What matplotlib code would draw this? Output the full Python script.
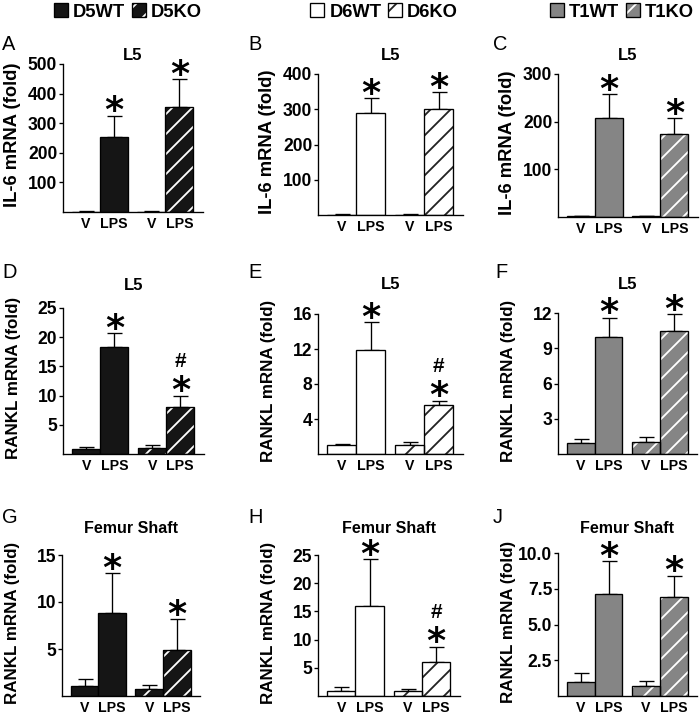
import numpy as np
import matplotlib
matplotlib.use("Agg")
import matplotlib.pyplot as plt
from matplotlib.patches import Patch
from matplotlib.legend_handler import HandlerTuple

plt.rcParams['font.family'] = ['Liberation Sans', 'DejaVu Sans']
plt.rcParams['hatch.linewidth'] = 1.1

###################################################
# Data (fold change, mean and SEM)
###################################################
groups = ["V", "LPS", "V", "LPS"]

# IL-6 mRNA, L5
a_mean = [1, 252, 1, 355]
a_sem = [1, 73, 1, 94]
b_mean = [1, 290, 1, 301]
b_sem = [1, 42, 1, 48]
c_mean = [1.5, 208, 1.5, 174]
c_sem = [0.5, 50, 0.5, 34]

# RANKL mRNA, L5
d_mean = [0.9, 18.4, 1.1, 8.1]
d_sem = [0.35, 2.3, 0.4, 1.9]
e_mean = [1.03, 11.9, 1.0, 5.6]
e_sem = [0.11, 3.2, 0.4, 0.5]
f_mean = [0.97, 10.0, 1.06, 10.46]
f_sem = [0.29, 1.6, 0.37, 1.44]

# RANKL mRNA, femur shaft
g_mean = [1.06, 8.8, 0.78, 4.9]
g_sem = [0.74, 4.3, 0.42, 3.3]
h_mean = [0.95, 16.0, 0.83, 6.1]
h_sem = [0.7, 8.3, 0.41, 2.65]
j_mean = [1.0, 7.13, 0.7, 6.9]
j_sem = [0.59, 2.29, 0.35, 1.51]

# significance marks per bar
star = [False, True, False, True]
hash_d = [False, False, False, True]
hash_none = [False, False, False, False]

a_ticks = [100, 200, 300, 400, 500]
b_ticks = [100, 200, 300, 400]
c_ticks = [100, 200, 300]
d_ticks = [5, 10, 15, 20, 25]
e_ticks = [4, 8, 12, 16]
f_ticks = [3, 6, 9, 12]
g_ticks = [5, 10, 15]
h_ticks = [5, 10, 15, 20, 25]
j_ticks = [2.5, 5.0, 7.5, 10.0]

strains = [("D5WT", "D5KO"), ("D6WT", "D6KO"), ("T1WT", "T1KO")]
face = ["#151515", "white", "#858585"]
hatchcol = ["white", "#222222", "white"]

W, H = 700, 716
DPI = 120
fig = plt.figure(figsize=(W / DPI, H / DPI), dpi=DPI)

xpos = [0.82, 1.82, 3.16, 4.16]


def px_axes(l, r, t, b):
    return fig.add_axes([l / W, 1 - b / H, (r - l) / W, (b - t) / H])


def panel(box, mean, sem, ticks, ymax, col, ylabel, lab_size, title, title_px,
          title_size, letter, letter_px, hashes, fmt="%d"):
    l, r, t, b = box
    ax = px_axes(l, r, t, b)
    # WT bars
    ax.bar(xpos[:2], mean[:2], width=1.0, color=face[col], edgecolor="black",
           linewidth=0.8, zorder=2)
    # KO bars, hatch first then outline
    ax.bar(xpos[2:], mean[2:], width=1.0, color=face[col], edgecolor=hatchcol[col],
           hatch="//", linewidth=0, zorder=2)
    ax.bar(xpos[2:], mean[2:], width=1.0, fill=False, edgecolor="black",
           linewidth=0.8, zorder=3)
    ax.errorbar(xpos, mean, yerr=[np.zeros(4), sem], fmt="none", ecolor="black",
                elinewidth=0.8, capsize=4.5, capthick=0.8, zorder=1)

    for i in range(4):
        top = mean[i] + sem[i]
        if star[i]:
            ax.annotate("*", xy=(xpos[i], top), xytext=(0, -4),
                        textcoords="offset points", ha="center", va="baseline",
                        fontsize=22, family="DejaVu Sans", fontweight="bold",
                        annotation_clip=False)
        if hashes[i]:
            ax.annotate("#", xy=(xpos[i], top), xytext=(0, 17),
                        textcoords="offset points", ha="center", va="baseline",
                        fontsize=12.5, fontweight="bold", annotation_clip=False)

    ax.set_xlim(0, 5.0)
    ax.set_ylim(0, ymax)
    ax.set_yticks(ticks)
    ax.set_yticklabels([fmt % v for v in ticks], fontsize=10.5, fontweight="bold")
    ax.set_xticks(xpos)
    ax.set_xticklabels(groups, fontsize=8.5, fontweight="bold")
    ax.tick_params(axis="x", length=0, pad=3)
    ax.tick_params(axis="y", direction="out", length=2.5, width=0.8, pad=1)
    for s in ["top", "right"]:
        ax.spines[s].set_visible(False)
    for s in ["left", "bottom"]:
        ax.spines[s].set_linewidth(0.8)

    ax.set_ylabel(ylabel, fontsize=lab_size, fontweight="bold")
    ax.yaxis.set_label_coords(-42 / (r - l), 0.52)

    ax.text(0.5, (b - title_px) / (b - t), title, transform=ax.transAxes,
            ha="center", va="baseline", fontsize=title_size, fontweight="bold")
    fig.text(letter_px[0] / W, 1 - letter_px[1] / H, letter, fontsize=12,
             ha="left", va="baseline")
    return ax


###################################################
# Panels
###################################################
il6 = "IL-6 mRNA (fold)"
rankl = "RANKL mRNA (fold)"

panel((63, 203, 64, 212), a_mean, a_sem, a_ticks, 500, 0, il6, 11, "L5", 60, 10, "A", (2, 50), hash_none)
panel((318, 463, 74, 215), b_mean, b_sem, b_ticks, 400, 1, il6, 11, "L5", 60, 10, "B", (248, 50), hash_none)
panel((558, 698, 74, 217), c_mean, c_sem, c_ticks, 300, 2, il6, 11, "L5", 60, 10, "C", (493, 50), hash_none)

panel((63, 204, 308, 454), d_mean, d_sem, d_ticks, 25, 0, rankl, 10.2, "L5", 290, 10, "D", (2, 278), hash_d)
panel((318, 463, 314, 454), e_mean, e_sem, e_ticks, 16, 1, rankl, 10.2, "L5", 289, 10, "E", (248, 278), hash_d)
panel((558, 697, 313, 454), f_mean, f_sem, f_ticks, 12, 2, rankl, 10.2, "L5", 289, 10, "F", (495, 278), hash_none)

panel((62, 200, 555, 696), g_mean, g_sem, g_ticks, 15, 0, rankl, 10.2, "Femur Shaft", 533, 9.6, "G", (2, 523), hash_none)
panel((318, 460, 555, 696), h_mean, h_sem, h_ticks, 25, 1, rankl, 10.2, "Femur Shaft", 533, 9.6, "H", (248, 523), hash_d)
panel((558, 697, 553, 696), j_mean, j_sem, j_ticks, 10, 2, rankl, 10.2, "Femur Shaft", 533, 9.6, "J", (493, 523), hash_none, fmt="%.1f")

###################################################
# Legends on top
###################################################
leg_x = [128, 384, 622]
for k in range(3):
    wt = Patch(facecolor=face[k], edgecolor="black", linewidth=0.8)
    ko_h = Patch(facecolor=face[k], edgecolor=hatchcol[k], hatch="//", linewidth=0)
    ko_e = Patch(fill=False, edgecolor="black", linewidth=0.8)
    fig.legend([wt, (ko_h, ko_e)], list(strains[k]), ncol=2, loc="center",
               bbox_to_anchor=(leg_x[k] / W, 1 - 12 / H), frameon=False,
               handler_map={tuple: HandlerTuple(ndivide=1)},
               prop={"weight": "bold", "size": 11},
               handlelength=0.75, handleheight=0.75, handletextpad=0.3,
               columnspacing=0.35, borderpad=0, borderaxespad=0)

plt.savefig("out.png", dpi=DPI)
